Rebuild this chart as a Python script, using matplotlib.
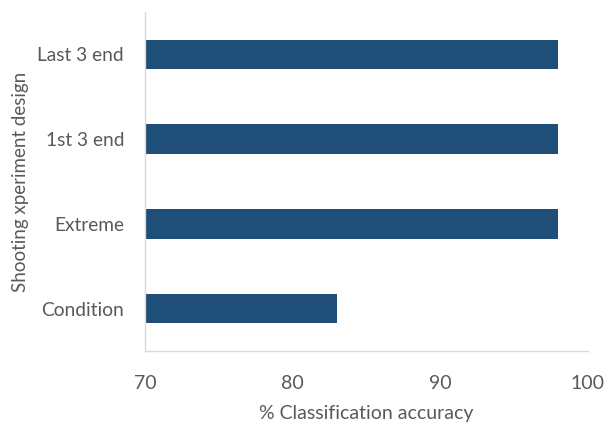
import matplotlib
matplotlib.use("Agg")
import matplotlib.pyplot as plt

plt.rcParams["font.family"] = ["Lato", "DejaVu Sans"]

designs = ["Condition", "Extreme", "1st 3 end", "Last 3 end"]
accuracy = [83, 98, 98, 98]

BAR = "#1F4E79"
TXT = "#595959"

fig = plt.figure(figsize=(6.06, 4.29), dpi=100)
ax = fig.add_axes([0.239, 0.182, 0.731, 0.790])

ax.barh(designs, accuracy, height=0.35, color=BAR, left=0)
ax.set_xlim(70, 100)
ax.set_ylim(-0.5, 3.5)
ax.set_xticks([70, 80, 90, 100])

for s in ["top", "right"]:
    ax.spines[s].set_visible(False)
for s in ["left", "bottom"]:
    ax.spines[s].set_color("#D9D9D9")
    ax.spines[s].set_linewidth(1.0)

ax.tick_params(axis="x", length=0, pad=17, labelsize=14, labelcolor=TXT)
ax.tick_params(axis="y", length=0, pad=15, labelsize=13.8, labelcolor=TXT)

ax.set_xlabel("% Classification accuracy", fontsize=14, color=TXT, labelpad=10)
ax.set_ylabel("Shooting xperiment design", fontsize=13.5, color=TXT, labelpad=6)

fig.savefig("out.png", dpi=100)
